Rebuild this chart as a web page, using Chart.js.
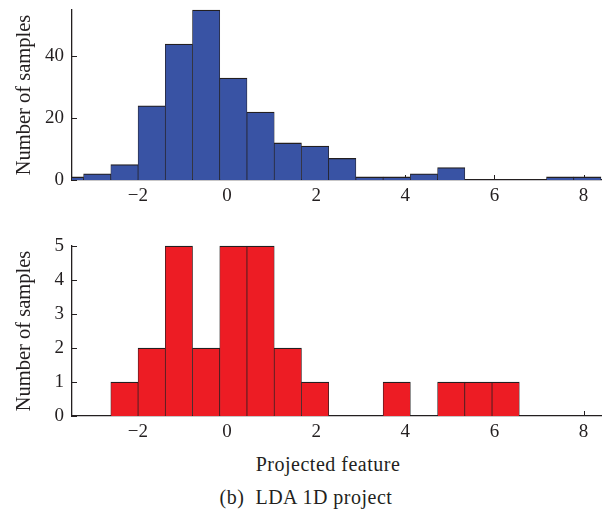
<!DOCTYPE html>
<html><head><meta charset="utf-8">
<script src="https://cdn.jsdelivr.net/npm/chart.js@4/dist/chart.umd.min.js"></script>
<style>
html,body{margin:0;padding:0;background:#fff}
body{width:609px;height:523px;position:relative;overflow:hidden;font-family:"Liberation Serif",serif;color:#231f20}
canvas{position:absolute;left:0}
#c1{top:0}
#c2{top:236px}
.t{position:absolute;white-space:nowrap;transform:translateX(-50%);font-size:20px;line-height:20px;letter-spacing:0.5px}
</style></head><body>
<canvas id="c1" width="609" height="215"></canvas>
<canvas id="c2" width="609" height="215"></canvas>
<div class="t" id="xt" style="left:328px;top:454px">Projected feature</div>
<div class="t" id="cap" style="left:306px;top:487px">(b)&nbsp; LDA 1D project</div>
<script>
// Histogram bin centers (projected feature value)
const binCenters = [-3.525, -2.914, -2.303, -1.692, -1.081, -0.470, 0.141, 0.752, 1.363, 1.974,
                    2.585, 3.196, 3.807, 4.418, 5.029, 5.640, 6.251, 6.862, 7.473, 8.084];
// Counts per bin, top (blue) histogram
const blueCounts = [1, 2, 5, 24, 44, 55, 33, 22, 12, 11, 7, 1, 1, 2, 4, 0, 0, 0, 1, 1];
// Counts per bin, bottom (red) histogram
const redCounts = [0, 0, 1, 2, 5, 2, 5, 5, 2, 1, 0, 0, 1, 0, 1, 1, 1, 0, 0, 0];
const xTicks = [-2, 0, 2, 4, 6, 8];
const yTicksTop = [0, 20, 40];
const yTicksBottom = [0, 1, 2, 3, 4, 5];
const xMin = -3.48, xMax = 8.39;

const INK = '#231f20';
const FONT = 'Liberation Serif';

const inwardTicks = {
  id: 'inwardTicks',
  beforeDatasetsDraw(chart) {
    const {ctx, chartArea: a, scales: {x, y}} = chart;
    ctx.save();
    ctx.strokeStyle = INK;
    ctx.lineWidth = 1;
    ctx.beginPath();
    x.ticks.forEach(t => {
      const px = Math.round(x.getPixelForValue(t.value)) + 0.5;
      ctx.moveTo(px, a.bottom); ctx.lineTo(px, a.bottom - 5);
    });
    y.ticks.forEach(t => {
      const py = Math.round(y.getPixelForValue(t.value)) + 0.5;
      ctx.moveTo(a.left, py); ctx.lineTo(a.left + 5, py);
    });
    ctx.stroke();
    ctx.restore();
  }
};

function fmt(v) { return v < 0 ? '\u2212' + Math.abs(v) : String(v); }

function makeChart(id, counts, color, yMax, yTicks) {
  return new Chart(document.getElementById(id), {
    type: 'bar',
    data: {
      datasets: [{
        data: binCenters.map((x, i) => ({x: x, y: counts[i]})),
        backgroundColor: color,
        borderColor: INK,
        borderWidth: {top: 1.3, left: 0.7, right: 0.7, bottom: 0},
        borderSkipped: false,
        barPercentage: 1,
        categoryPercentage: 1,
        clip: {left: 0, top: false, right: false, bottom: 0}
      }]
    },
    options: {
      responsive: false,
      animation: false,
      devicePixelRatio: 1,
      layout: {padding: {left: 0, right: 8, top: 10, bottom: 0}},
      plugins: {legend: {display: false}, tooltip: {enabled: false}},
      scales: {
        x: {
          type: 'linear', min: xMin, max: xMax, offset: false,
          grid: {display: false, drawTicks: false, offset: false},
          border: {display: true, color: INK, width: 1.3},
          ticks: {padding: 5, color: INK, font: {family: FONT, size: 19}, maxRotation: 0, autoSkip: false,
                  callback: v => fmt(v)},
          afterBuildTicks: s => { s.ticks = xTicks.map(v => ({value: v})); },
          afterFit: s => { s.height = 35; s.paddingLeft = 0; s.paddingRight = 0; }
        },
        y: {
          min: 0, max: yMax,
          grid: {display: false, drawTicks: false},
          border: {display: true, color: INK, width: 1.3},
          ticks: {padding: 8, color: INK, font: {family: FONT, size: 19}},
          afterBuildTicks: s => { s.ticks = yTicks.map(v => ({value: v})); },
          afterFit: s => { s.width = 72; s.paddingTop = 0; s.paddingBottom = 0; },
          title: {display: true, text: 'Number of samples', color: INK,
                  font: {family: FONT, size: 20.5}, padding: {top: 12, bottom: 0}}
        }
      }
    },
    plugins: [inwardTicks]
  });
}

makeChart('c1', blueCounts, '#3953a4', 55, yTicksTop);
makeChart('c2', redCounts, '#ed1c24', 5, yTicksBottom);
</script>
</body></html>
